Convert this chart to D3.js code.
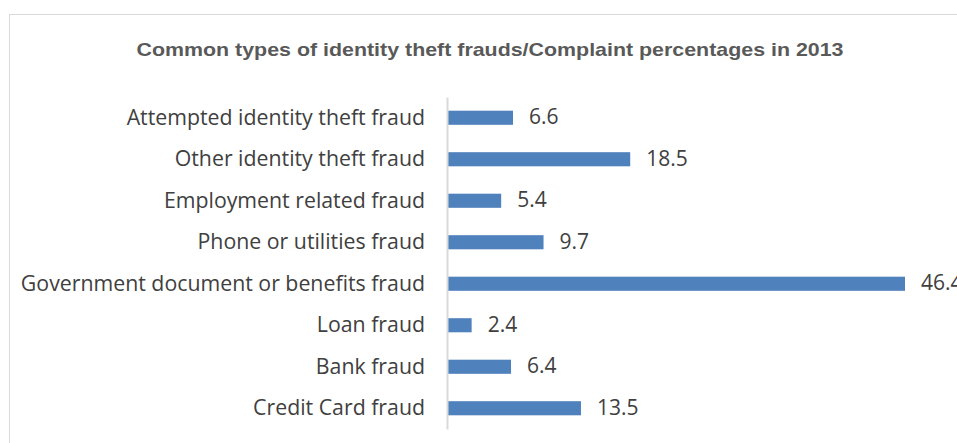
<!DOCTYPE html>
<html lang="en">
<head>
    <meta charset="UTF-8">
    <title>Identity theft frauds 2013</title>
    <script src="https://d3js.org/d3.v7.min.js"></script>
    <style>
        body { margin: 0; background: #fff; }
        svg { display: block; font-family: "Open Sans", sans-serif; }
    </style>
</head>
<body>
    <div id="chart"></div>
    <script>
        // Data, top to bottom as shown
        const categories = [
            'Attempted identity theft fraud',
            'Other identity theft fraud ',
            'Employment related fraud',
            'Phone or utilities fraud',
            'Government document or benefits fraud',
            'Loan fraud',
            'Bank fraud',
            'Credit Card fraud'
        ];
        const values = [6.6, 18.5, 5.4, 9.7, 46.4, 2.4, 6.4, 13.5];
        const title = 'Common types of identity theft frauds/Complaint percentages  in 2013';

        const W = 957, H = 443;
        const svg = d3.select('#chart').append('svg')
            .attr('width', W)
            .attr('height', H);

        // chart area border
        svg.append('rect')
            .attr('x', 9.5).attr('y', 14.5)
            .attr('width', 1000).attr('height', 1000)
            .attr('fill', 'none')
            .attr('stroke', '#d9d9d9');

        svg.append('text')
            .attr('x', 490)
            .attr('y', 56)
            .attr('text-anchor', 'middle')
            .attr('font-family', '"Liberation Sans", Arial, sans-serif')
            .attr('font-weight', 'bold')
            .attr('font-size', 19)
            .attr('fill', '#595959')
            .attr('textLength', 707)
            .attr('lengthAdjust', 'spacingAndGlyphs')
            .text(title);

        const x = d3.scaleLinear().domain([0, 46.4]).range([448, 905]);
        const y = d3.scaleBand().domain(categories).range([97, 429]).paddingInner(0.66).paddingOuter(0.33);

        svg.selectAll('.bar')
            .data(values)
            .enter()
            .append('rect')
            .attr('class', 'bar')
            .attr('x', x(0))
            .attr('y', (d, i) => y(categories[i]))
            .attr('width', d => x(d) - x(0))
            .attr('height', y.bandwidth())
            .attr('fill', '#4f81bd');

        svg.selectAll('.val')
            .data(values)
            .enter()
            .append('text')
            .attr('class', 'val')
            .attr('x', d => x(d) + 16)
            .attr('y', (d, i) => y(categories[i]) + y.bandwidth() / 2)
            .attr('dy', '0.3em')
            .attr('font-size', 21)
            .attr('fill', '#404040')
            .text(d => d.toFixed(1));

        // category axis
        const axis = svg.append('g')
            .attr('transform', `translate(${x(0) - 1},0)`)
            .call(d3.axisLeft(y).tickSize(0).tickPadding(22));
        axis.select('.domain').attr('stroke', '#d9d9d9').attr('stroke-width', 2);
        axis.selectAll('text')
            .attr('font-family', '"Open Sans", sans-serif')
            .attr('font-size', 21.3)
            .attr('fill', '#404040');
    </script>
</body>
</html>
